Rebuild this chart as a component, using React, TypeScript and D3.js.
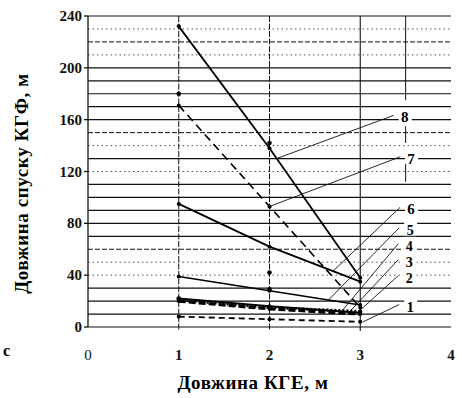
import React from 'react';
import * as d3 from 'd3';

// curves 1..8, values at KGE length 1, 2, 3 m
const lengths = [1, 2, 3];
const s1 = [8, 6, 4];
const s2 = [22, 16, 11];
const s3 = [21, 15, 12];
const s4 = [20, 14, 10];
const s5 = [39, 28, 17];
const s6 = [95, 62, 35];
const s7 = [171, 93, 15];
const s8 = [232, 138, 38];
const series = [s1, s2, s3, s4, s5, s6, s7, s8];
const seriesNames = ['1', '2', '3', '4', '5', '6', '7', '8'];
// extra measured points
const extraX = [1, 2, 2, 1, 2];
const extraY = [180, 142, 42, 22, 29];

const xTicks = [0, 1, 2, 3, 4];
const yTicks = [0, 40, 80, 120, 160, 200, 240];
const gridVals = d3.range(0, 250, 10);
const gridStyle: Record<number, string> = {
  230: 'dot', 220: 'dash', 210: 'dot', 150: 'dash', 140: 'dot', 120: 'dot', 60: 'dash', 50: 'dot', 40: 'dot',
};
// label anchor heights (data units), label x, and leader target x on each curve
const labelY = [15, 37.3, 49.6, 61.9, 74.2, 90, 129, 161];
const labelX = [3.55, 3.54, 3.54, 3.54, 3.55, 3.56, 3.56, 3.49];
const leaderX = [3.03, 2.97, 2.89, 2.78, 2.65, 2.7, 2.0, 2.08];

const W = 462, H = 398;
const x = d3.scaleLinear().domain([0, 4]).range([88, 451]);
const y = d3.scaleLinear().domain([0, 240]).range([327, 16]);

const lineStyle = [
  { w: 1.8, dash: '6,4' },
  { w: 2.2, dash: '' },
  { w: 3, dash: '2,2' },
  { w: 3.2, dash: '7,3' },
  { w: 1.6, dash: '' },
  { w: 1.8, dash: '' },
  { w: 1.6, dash: '8,5' },
  { w: 1.8, dash: '' },
];

const interp = (s: number[], xv: number) => {
  const f = d3.scaleLinear().domain(lengths).range(s);
  return f(xv);
};

export default function App() {
  const line = d3.line<number>().x((_, i) => x(lengths[i])).y(d => y(d));
  const font = '"Liberation Serif", "Times New Roman", serif';
  return (
    <svg width={W} height={H} style={{ position: 'absolute', left: 0, top: 0, background: '#fff' }} fontFamily={font}>
      {/* horizontal grid */}
      {gridVals.map(v => {
        const st = gridStyle[v] || 'solid';
        return (
          <line key={'g' + v} x1={x(0)} x2={x(4)} y1={y(v)} y2={y(v)} stroke="#111"
            strokeWidth={st === 'solid' ? 1.2 : 1}
            strokeDasharray={st === 'dot' ? '1.5,3' : st === 'dash' ? '5,2' : undefined}
            opacity={st === 'dot' ? 0.7 : 1} />
        );
      })}
      {/* vertical grid */}
      {[1, 2].map(v => (
        <line key={'v' + v} x1={x(v)} x2={x(v)} y1={y(240)} y2={y(0) + 4} stroke="#111" strokeWidth={1} strokeDasharray="6,1.5" />
      ))}
      <line x1={x(3)} x2={x(3)} y1={y(240)} y2={y(0) + 4} stroke="#111" strokeWidth={1.1} />
      <line x1={x(3.5)} x2={x(3.5)} y1={y(240)} y2={y(175)} stroke="#111" strokeWidth={1} />
      <line x1={x(3.5)} x2={x(3.5)} y1={y(155)} y2={y(142)} stroke="#111" strokeWidth={1} />
      <line x1={x(3.5)} x2={x(3.5)} y1={y(127)} y2={y(112)} stroke="#111" strokeWidth={1} />
      {/* y axis */}
      <line x1={x(0)} x2={x(0)} y1={y(240)} y2={y(0)} stroke="#111" strokeWidth={1.3} />
      {yTicks.map(t => (
        <g key={'yt' + t}>
          <line x1={x(0) - 4} x2={x(0)} y1={y(t)} y2={y(t)} stroke="#111" strokeWidth={1.3} />
          <text x={x(0) - 6} y={y(t) + 5} textAnchor="end" fontSize={15} fontWeight="bold" fill="#111">{t}</text>
        </g>
      ))}
      {xTicks.map(t => (
        <text key={'xt' + t} x={x(t)} y={360} textAnchor="middle" fontSize={15} fontWeight={t === 0 ? 'normal' : 'bold'} fill="#111">{t}</text>
      ))}
      {/* curves */}
      {series.map((s, i) => (
        <path key={'s' + i} d={line(s) || ''} fill="none" stroke="#000"
          strokeWidth={lineStyle[i].w} strokeDasharray={lineStyle[i].dash || undefined} />
      ))}
      {series.map((s, i) => s.map((v, j) => (
        <circle key={'m' + i + j} cx={x(lengths[j])} cy={y(v)} r={2} fill="#000" />
      )))}
      {extraX.map((xv, i) => (
        <circle key={'e' + i} cx={x(xv)} cy={y(extraY[i])} r={2.3} fill="#000" />
      ))}
      {/* labels with leaders */}
      {series.map((s, i) => {
        const lx = x(labelX[i]);
        const ly = y(labelY[i]);
        const tx = x(leaderX[i]);
        const ty = y(interp(s, leaderX[i]));
        const fs = i >= 1 && i <= 4 ? 14 : 15;
        return (
          <g key={'l' + i}>
            <line x1={lx - 11} y1={ly - 3} x2={tx} y2={ty} stroke="#111" strokeWidth={0.9} />
            <rect x={lx - 6} y={ly - 10} width={13} height={14} fill="#fff" />
            <text x={lx} y={ly + 4} textAnchor="middle" fontSize={fs} fontWeight="bold" fill="#000">{seriesNames[i]}</text>
          </g>
        );
      })}
      {/* titles */}
      <text transform={`translate(28, ${(y(0) + y(240)) / 2 + 12}) rotate(-90)`} textAnchor="middle" fontSize={19} fontWeight="bold" fill="#000" letterSpacing={0.6}>Довжина спуску КГФ, м</text>
      <text x={253} y={389} textAnchor="middle" fontSize={19} fontWeight="bold" fill="#000" letterSpacing={0.6}>Довжина КГЕ, м</text>
      <text x={3} y={356} fontSize={16} fontWeight="bold" fill="#000">c</text>
    </svg>
  );
}
